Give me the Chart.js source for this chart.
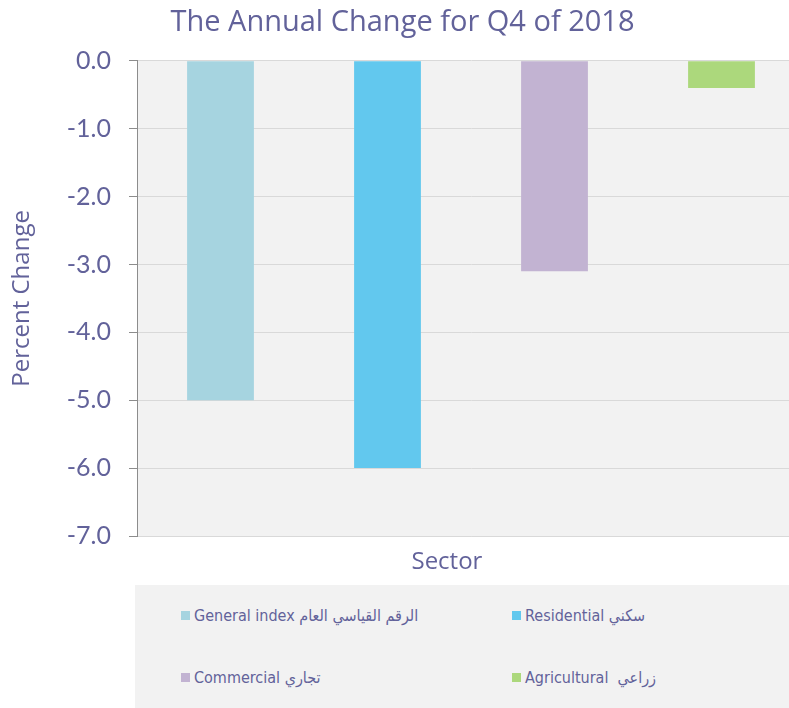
<!DOCTYPE html>
<html>
<head>
<meta charset="utf-8">
<script src="https://cdn.jsdelivr.net/npm/chart.js@4"></script>
<style>
  html, body { margin: 0; padding: 0; background: #fff; overflow: hidden; }
  #wrap { position: relative; width: 805px; height: 585px; }
  #legend {
    position: absolute; left: 135px; top: 585px; width: 660px; height: 123px;
    background: #f2f2f2; display: grid; grid-template-columns: 331px 300px;
    grid-template-rows: 1fr 1fr; padding-left: 46px; box-sizing: border-box;
    font-family: "DejaVu Sans Condensed", sans-serif; font-size: 16px; color: #62629a;
  }
  .item { display: flex; align-items: center; white-space: pre; }
  .box { width: 9px; height: 9px; margin-right: 4px; }
</style>
</head>
<body>
<div id="wrap"><canvas id="barChart"></canvas></div>
<div id="legend"></div>
<script>
const sectors = ["General index الرقم القياسي العام", "Residential سكني", "Commercial تجاري", "Agricultural  زراعي"];
const changes = [-5.0, -6.0, -3.1, -0.4];
const colors = ["#a6d4e0", "#62c8ee", "#c2b3d2", "#acd87c"];
const axisName = "Sector";
const textColor = "#62629a";

const plotBg = {
  id: "plotBg",
  beforeDraw(chart) {
    const { ctx, chartArea } = chart;
    ctx.save();
    ctx.fillStyle = "#f2f2f2";
    ctx.fillRect(chartArea.left, chartArea.top, chartArea.right - chartArea.left, chartArea.bottom - chartArea.top);
    ctx.restore();
  },
  // x-axis title sits a bit left of the plot centre in the original
  afterDraw(chart) {
    const { ctx, chartArea } = chart;
    ctx.save();
    ctx.fillStyle = textColor;
    ctx.font = "24px 'Open Sans'";
    ctx.textAlign = "center";
    ctx.textBaseline = "middle";
    ctx.fillText(axisName, chartArea.left + (chartArea.right - chartArea.left) * 0.464, chartArea.bottom + 26);
    ctx.restore();
  },
};

const ctx = document.getElementById("barChart");

const barChart = new Chart(ctx, {
  type: "bar",
  data: {
    labels: [axisName],
    datasets: sectors.map((s, i) => ({
      label: s,
      data: [changes[i]],
      backgroundColor: colors[i],
      categoryPercentage: 1,
      barPercentage: 0.4,
    })),
  },
  options: {
    responsive: true,
    maintainAspectRatio: false,
    animation: false,
    layout: { padding: 0 },
    plugins: {
      legend: { display: false },
      tooltip: { enabled: false },
      title: {
        display: true,
        text: "The Annual Change for Q4 of 2018",
        color: textColor,
        font: { family: "Open Sans", size: 29, weight: "normal" },
        padding: { top: 5, bottom: 21 },
      },
    },
    scales: {
      x: {
        ticks: { display: false },
        grid: { display: false },
        border: { color: "#d9d9d9" },
        afterFit(scale) {
          scale.height = 49;
        },
      },
      y: {
        min: -7,
        max: 0,
        ticks: {
          stepSize: 1,
          padding: 18,
          color: textColor,
          font: { family: "Lato", size: 25 },
          callback: (v) => v.toFixed(1),
        },
        grid: { color: "#d9d9d9", tickColor: "#8c8c8c", tickLength: 8 },
        border: { color: "#8c8c8c" },
        title: {
          display: true,
          text: "Percent Change",
          color: textColor,
          font: { family: "Open Sans", size: 24 },
          padding: { top: 8, bottom: 0 },
        },
        afterFit(scale) {
          scale.width = 137;
        },
      },
    },
  },
  plugins: [plotBg],
});

const legend = document.getElementById("legend");
sectors.forEach((s, i) => {
  const item = document.createElement("div");
  item.className = "item";
  item.innerHTML = '<span class="box" style="background:' + colors[i] + '"></span><span>' + s + "</span>";
  legend.appendChild(item);
});
</script>
</body>
</html>
